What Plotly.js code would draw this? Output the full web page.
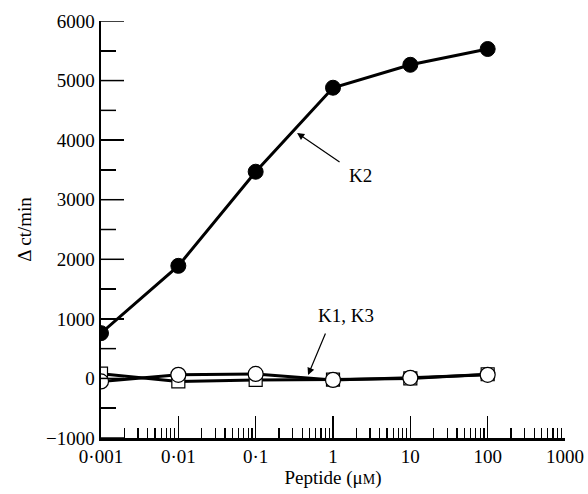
<!DOCTYPE html>
<html><head><meta charset="utf-8">
<script src="https://cdn.plot.ly/plotly-3.0.1.min.js"></script>
<style>html,body{margin:0;padding:0;background:#fff}</style>
</head><body><div id="chart" style="width:588px;height:494px"></div>
<script>
const peptide = [0.001, 0.01, 0.1, 1, 10, 100];
const k2 = [760, 1890, 3470, 4880, 5265, 5530];
const k1 = [80, -50, -25, -20, 0, 70];
const k3 = [-50, 60, 75, -25, 10, 60];
const xTickVals = [0.001, 0.01, 0.1, 1, 10, 100, 1000];
const xTickText = ['0·001', '0·01', '0·1', '1', '10', '100', '1000'];
const yTickVals = [-1000, 0, 1000, 2000, 3000, 4000, 5000, 6000];
const yTickText = ['\u22121000', '0', '1000', '2000', '3000', '4000', '5000', '6000'];

const minorY = yTickVals.slice(0, -1).map(v => v + 500);
const plotW = 588 - 101 - 23;

const font = {family: '"Liberation Serif", "Times New Roman", serif', color: '#000', size: 19};
const lineStyle = {color: '#000', width: 3};
const traces = [
  {x: peptide, y: k1, mode: 'lines', line: lineStyle, hoverinfo: 'skip'},
  {x: peptide, y: k3, mode: 'lines', line: lineStyle, hoverinfo: 'skip'},
  {x: peptide, y: k2, mode: 'lines', line: lineStyle, hoverinfo: 'skip'},
  {x: peptide, y: k1, mode: 'markers', marker: {symbol: 'square', size: 13, color: '#fff', line: {color: '#000', width: 1.2}}},
  {x: peptide, y: k3, mode: 'markers', marker: {symbol: 'circle', size: 15, color: '#fff', line: {color: '#000', width: 1.2}}},
  {x: peptide, y: k2, mode: 'markers', marker: {symbol: 'circle', size: 15, color: '#000', line: {color: '#000', width: 1}}}
];
const tickShapes = yTickVals.map(v => ({
  type: 'line', xref: 'paper', yref: 'y', x0: 0, x1: 23 / plotW, y0: v, y1: v,
  line: {color: '#000', width: 1.5}, layer: 'above'
})).concat(minorY.map(v => ({
  type: 'line', xref: 'paper', yref: 'y', x0: 0, x1: 15 / plotW, y0: v, y1: v,
  line: {color: '#000', width: 1.5}, layer: 'above'
})));
const layout = {
  width: 588, height: 494,
  margin: {l: 101, r: 23, t: 21, b: 56},
  paper_bgcolor: '#fff', plot_bgcolor: '#fff',
  showlegend: false,
  font: font,
  shapes: tickShapes,
  xaxis: {
    type: 'log', range: [-3, 3], showgrid: false, zeroline: false,
    showline: true, linecolor: '#000', linewidth: 2.5,
    tickmode: 'array', tickvals: xTickVals, ticktext: xTickText,
    ticks: 'inside', ticklen: 22, tickwidth: 1.5, tickcolor: '#000',
    minor: {dtick: 'D1', ticks: 'inside', ticklen: 10, tickwidth: 1.3, tickcolor: '#000', showgrid: false},
    tickfont: font,
    title: {text: 'Peptide (μ<span style="font-size:14px">M</span>)', font: font, standoff: 4}
  },
  yaxis: {
    range: [-1000, 6000], showgrid: false, zeroline: false,
    showline: true, linecolor: '#000', linewidth: 2.5,
    tickmode: 'array', tickvals: yTickVals, ticktext: yTickText,
    ticks: 'inside', ticklen: 23, tickwidth: 1.5, tickcolor: '#000',
    minor: {tickmode: 'array', tickvals: minorY, ticks: 'inside', ticklen: 15, tickwidth: 1.5, tickcolor: '#000', showgrid: false},
    tickfont: font,
    title: {text: 'Δ ct/min', font: font, standoff: 10}
  },
  annotations: [
    {x: Math.log10(0.343), y: 4120, xref: 'x', yref: 'y', ax: 44, ay: 30, text: '', showarrow: true, arrowhead: 2, arrowsize: 1.2, arrowwidth: 1.2, arrowcolor: '#000'},
    {x: Math.log10(1.52), y: 3400, xref: 'x', yref: 'y', text: 'K2', showarrow: false, font: font, xanchor: 'left'},
    {x: Math.log10(0.476), y: 57, xref: 'x', yref: 'y', ax: 18, ay: -43, text: '', showarrow: true, arrowhead: 2, arrowsize: 1.2, arrowwidth: 1.2, arrowcolor: '#000'},
    {x: Math.log10(1.476), y: 1064, xref: 'x', yref: 'y', text: 'K1, K3', showarrow: false, font: font}
  ]
};
Plotly.newPlot('chart', traces, layout, {displayModeBar: false, staticPlot: true});
</script></body></html>
